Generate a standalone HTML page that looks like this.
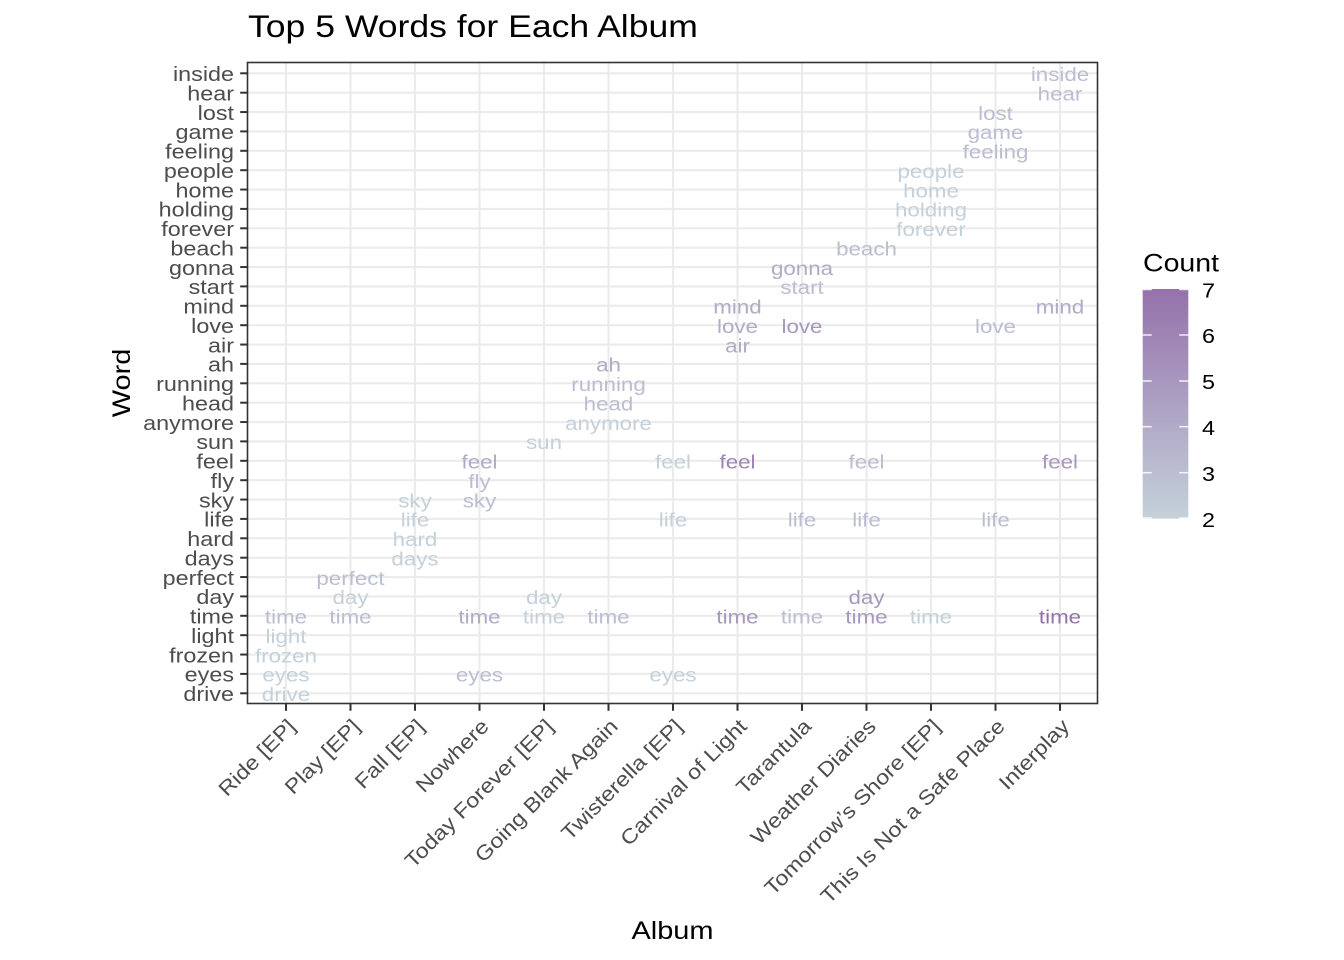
<!DOCTYPE html>
<html>
<head>
<meta charset="utf-8">
<style>
  html, body { margin:0; padding:0; background:#ffffff; }
  svg { display:block; }
  text { font-family: "Liberation Sans", Arial, sans-serif; }
  .yt { font-size:20.5px; fill:#4D4D4D; text-anchor:end; }
  .xt { font-size:20.5px; fill:#4D4D4D; text-anchor:end; }
  .g  { font-size:19.6px; text-anchor:middle; }
  .lt { font-size:20.5px; fill:#000; }
  .c2 { fill:#C4D1DA; }
  .c3 { fill:#BBBED1; }
  .c4 { fill:#B1ABC7; }
  .c5 { fill:#A897BE; }
  .c6 { fill:#9E84B4; }
  .c7 { fill:#9571AB; }
</style>
</head>
<body>
<svg width="1344" height="960" viewBox="0 0 1344 960" xmlns="http://www.w3.org/2000/svg">
  <defs>
    <linearGradient id="cb" x1="0" y1="0" x2="0" y2="1">
      <stop offset="0" stop-color="#9571AB"/>
      <stop offset="0.2" stop-color="#9E84B4"/>
      <stop offset="0.4" stop-color="#A897BE"/>
      <stop offset="0.6" stop-color="#B1ABC7"/>
      <stop offset="0.8" stop-color="#BBBED1"/>
      <stop offset="1" stop-color="#C4D1DA"/>
    </linearGradient>
  </defs>
  <rect x="0" y="0" width="1344" height="960" fill="#ffffff"/>

  <!-- Title -->
  <text transform="translate(248,37) scale(1.14,1)" font-size="31.2" fill="#000">Top 5 Words for Each Album</text>

  <!-- Panel background -->
  <rect x="247.5" y="62.5" width="850" height="641" fill="#ffffff"/>

  <!-- Horizontal gridlines -->
  <g stroke="#EBEBEB" stroke-width="2.1">
    <line x1="247.5" x2="1097.5" y1="693.3" y2="693.3"/>
    <line x1="247.5" x2="1097.5" y1="673.9" y2="673.9"/>
    <line x1="247.5" x2="1097.5" y1="654.55" y2="654.55"/>
    <line x1="247.5" x2="1097.5" y1="635.2" y2="635.2"/>
    <line x1="247.5" x2="1097.5" y1="615.8" y2="615.8"/>
    <line x1="247.5" x2="1097.5" y1="596.4" y2="596.4"/>
    <line x1="247.5" x2="1097.5" y1="577.05" y2="577.05"/>
    <line x1="247.5" x2="1097.5" y1="557.7" y2="557.7"/>
    <line x1="247.5" x2="1097.5" y1="538.3" y2="538.3"/>
    <line x1="247.5" x2="1097.5" y1="518.9" y2="518.9"/>
    <line x1="247.5" x2="1097.5" y1="499.55" y2="499.55"/>
    <line x1="247.5" x2="1097.5" y1="480.2" y2="480.2"/>
    <line x1="247.5" x2="1097.5" y1="460.8" y2="460.8"/>
    <line x1="247.5" x2="1097.5" y1="441.4" y2="441.4"/>
    <line x1="247.5" x2="1097.5" y1="422.05" y2="422.05"/>
    <line x1="247.5" x2="1097.5" y1="402.7" y2="402.7"/>
    <line x1="247.5" x2="1097.5" y1="383.3" y2="383.3"/>
    <line x1="247.5" x2="1097.5" y1="363.9" y2="363.9"/>
    <line x1="247.5" x2="1097.5" y1="344.55" y2="344.55"/>
    <line x1="247.5" x2="1097.5" y1="325.2" y2="325.2"/>
    <line x1="247.5" x2="1097.5" y1="305.8" y2="305.8"/>
    <line x1="247.5" x2="1097.5" y1="286.4" y2="286.4"/>
    <line x1="247.5" x2="1097.5" y1="267.05" y2="267.05"/>
    <line x1="247.5" x2="1097.5" y1="247.7" y2="247.7"/>
    <line x1="247.5" x2="1097.5" y1="228.3" y2="228.3"/>
    <line x1="247.5" x2="1097.5" y1="208.9" y2="208.9"/>
    <line x1="247.5" x2="1097.5" y1="189.55" y2="189.55"/>
    <line x1="247.5" x2="1097.5" y1="170.2" y2="170.2"/>
    <line x1="247.5" x2="1097.5" y1="150.8" y2="150.8"/>
    <line x1="247.5" x2="1097.5" y1="131.4" y2="131.4"/>
    <line x1="247.5" x2="1097.5" y1="112.05" y2="112.05"/>
    <line x1="247.5" x2="1097.5" y1="92.7" y2="92.7"/>
    <line x1="247.5" x2="1097.5" y1="73.3" y2="73.3"/>
  </g>
  <!-- Vertical gridlines -->
  <g stroke="#EBEBEB" stroke-width="2.1">
    <line y1="62.5" y2="703.5" x1="286" x2="286"/>
    <line y1="62.5" y2="703.5" x1="350.5" x2="350.5"/>
    <line y1="62.5" y2="703.5" x1="415" x2="415"/>
    <line y1="62.5" y2="703.5" x1="479.5" x2="479.5"/>
    <line y1="62.5" y2="703.5" x1="544" x2="544"/>
    <line y1="62.5" y2="703.5" x1="608.5" x2="608.5"/>
    <line y1="62.5" y2="703.5" x1="673" x2="673"/>
    <line y1="62.5" y2="703.5" x1="737.5" x2="737.5"/>
    <line y1="62.5" y2="703.5" x1="802" x2="802"/>
    <line y1="62.5" y2="703.5" x1="866.5" x2="866.5"/>
    <line y1="62.5" y2="703.5" x1="931" x2="931"/>
    <line y1="62.5" y2="703.5" x1="995.5" x2="995.5"/>
    <line y1="62.5" y2="703.5" x1="1060" x2="1060"/>
  </g>

  <!-- Data labels -->
  <g class="g">
    <!-- Ride [EP] -->
    <text class="g c3" transform="translate(286,623.6) scale(1.14,1)">time</text>
    <text class="g c2" transform="translate(286,643.0) scale(1.14,1)">light</text>
    <text class="g c2" transform="translate(286,662.4) scale(1.14,1)">frozen</text>
    <text class="g c2" transform="translate(286,681.7) scale(1.14,1)">eyes</text>
    <text class="g c2" transform="translate(286,701.1) scale(1.14,1)">drive</text>
    <!-- Play [EP] -->
    <text class="g c3" transform="translate(350.5,584.9) scale(1.14,1)">perfect</text>
    <text class="g c2" transform="translate(350.5,604.2) scale(1.14,1)">day</text>
    <text class="g c3" transform="translate(350.5,623.6) scale(1.14,1)">time</text>
    <!-- Fall [EP] -->
    <text class="g c2" transform="translate(415,507.4) scale(1.14,1)">sky</text>
    <text class="g c2" transform="translate(415,526.7) scale(1.14,1)">life</text>
    <text class="g c2" transform="translate(415,546.1) scale(1.14,1)">hard</text>
    <text class="g c2" transform="translate(415,565.5) scale(1.14,1)">days</text>
    <!-- Nowhere -->
    <text class="g c4" transform="translate(479.5,468.6) scale(1.14,1)">feel</text>
    <text class="g c3" transform="translate(479.5,488.0) scale(1.14,1)">fly</text>
    <text class="g c3" transform="translate(479.5,507.4) scale(1.14,1)">sky</text>
    <text class="g c4" transform="translate(479.5,623.6) scale(1.14,1)">time</text>
    <text class="g c3" transform="translate(479.5,681.7) scale(1.14,1)">eyes</text>
    <!-- Today Forever [EP] -->
    <text class="g c2" transform="translate(544,449.2) scale(1.14,1)">sun</text>
    <text class="g c2" transform="translate(544,604.2) scale(1.14,1)">day</text>
    <text class="g c2" transform="translate(544,623.6) scale(1.14,1)">time</text>
    <!-- Going Blank Again -->
    <text class="g c4" transform="translate(608.5,371.7) scale(1.14,1)">ah</text>
    <text class="g c3" transform="translate(608.5,391.1) scale(1.14,1)">running</text>
    <text class="g c3" transform="translate(608.5,410.5) scale(1.14,1)">head</text>
    <text class="g c2" transform="translate(608.5,429.9) scale(1.14,1)">anymore</text>
    <text class="g c3" transform="translate(608.5,623.6) scale(1.14,1)">time</text>
    <!-- Twisterella [EP] -->
    <text class="g c2" transform="translate(673,468.6) scale(1.14,1)">feel</text>
    <text class="g c2" transform="translate(673,526.7) scale(1.14,1)">life</text>
    <text class="g c2" transform="translate(673,681.7) scale(1.14,1)">eyes</text>
    <!-- Carnival of Light -->
    <text class="g c4" transform="translate(737.5,313.6) scale(1.14,1)">mind</text>
    <text class="g c4" transform="translate(737.5,333.0) scale(1.14,1)">love</text>
    <text class="g c4" transform="translate(737.5,352.4) scale(1.14,1)">air</text>
    <text class="g c6" transform="translate(737.5,468.6) scale(1.14,1)">feel</text>
    <text class="g c5" transform="translate(737.5,623.6) scale(1.14,1)">time</text>
    <!-- Tarantula -->
    <text class="g c4" transform="translate(802,274.9) scale(1.14,1)">gonna</text>
    <text class="g c3" transform="translate(802,294.2) scale(1.14,1)">start</text>
    <text class="g c5" transform="translate(802,333.0) scale(1.14,1)">love</text>
    <text class="g c3" transform="translate(802,526.7) scale(1.14,1)">life</text>
    <text class="g c3" transform="translate(802,623.6) scale(1.14,1)">time</text>
    <!-- Weather Diaries -->
    <text class="g c3" transform="translate(866.5,255.5) scale(1.14,1)">beach</text>
    <text class="g c3" transform="translate(866.5,468.6) scale(1.14,1)">feel</text>
    <text class="g c3" transform="translate(866.5,526.7) scale(1.14,1)">life</text>
    <text class="g c5" transform="translate(866.5,604.2) scale(1.14,1)">day</text>
    <text class="g c5" transform="translate(866.5,623.6) scale(1.14,1)">time</text>
    <!-- Tomorrow's Shore [EP] -->
    <text class="g c2" transform="translate(931,178.0) scale(1.14,1)">people</text>
    <text class="g c2" transform="translate(931,197.4) scale(1.14,1)">home</text>
    <text class="g c2" transform="translate(931,216.7) scale(1.14,1)">holding</text>
    <text class="g c2" transform="translate(931,236.1) scale(1.14,1)">forever</text>
    <text class="g c2" transform="translate(931,623.6) scale(1.14,1)">time</text>
    <!-- This Is Not a Safe Place -->
    <text class="g c3" transform="translate(995.5,119.9) scale(1.14,1)">lost</text>
    <text class="g c3" transform="translate(995.5,139.2) scale(1.14,1)">game</text>
    <text class="g c3" transform="translate(995.5,158.6) scale(1.14,1)">feeling</text>
    <text class="g c3" transform="translate(995.5,333.0) scale(1.14,1)">love</text>
    <text class="g c3" transform="translate(995.5,526.7) scale(1.14,1)">life</text>
    <!-- Interplay -->
    <text class="g c3" transform="translate(1060,81.1) scale(1.14,1)">inside</text>
    <text class="g c3" transform="translate(1060,100.5) scale(1.14,1)">hear</text>
    <text class="g c4" transform="translate(1060,313.6) scale(1.14,1)">mind</text>
    <text class="g c5" transform="translate(1060,468.6) scale(1.14,1)">feel</text>
    <text class="g c7" transform="translate(1060,623.6) scale(1.14,1)">time</text>
  </g>

  <!-- Panel border -->
  <rect x="247.5" y="62.5" width="850" height="641" fill="none" stroke="#333333" stroke-width="1.6"/>

  <!-- Y ticks -->
  <g stroke="#333333" stroke-width="2">
    <line x1="240.2" x2="247.5" y1="693.3" y2="693.3"/>
    <line x1="240.2" x2="247.5" y1="673.9" y2="673.9"/>
    <line x1="240.2" x2="247.5" y1="654.55" y2="654.55"/>
    <line x1="240.2" x2="247.5" y1="635.2" y2="635.2"/>
    <line x1="240.2" x2="247.5" y1="615.8" y2="615.8"/>
    <line x1="240.2" x2="247.5" y1="596.4" y2="596.4"/>
    <line x1="240.2" x2="247.5" y1="577.05" y2="577.05"/>
    <line x1="240.2" x2="247.5" y1="557.7" y2="557.7"/>
    <line x1="240.2" x2="247.5" y1="538.3" y2="538.3"/>
    <line x1="240.2" x2="247.5" y1="518.9" y2="518.9"/>
    <line x1="240.2" x2="247.5" y1="499.55" y2="499.55"/>
    <line x1="240.2" x2="247.5" y1="480.2" y2="480.2"/>
    <line x1="240.2" x2="247.5" y1="460.8" y2="460.8"/>
    <line x1="240.2" x2="247.5" y1="441.4" y2="441.4"/>
    <line x1="240.2" x2="247.5" y1="422.05" y2="422.05"/>
    <line x1="240.2" x2="247.5" y1="402.7" y2="402.7"/>
    <line x1="240.2" x2="247.5" y1="383.3" y2="383.3"/>
    <line x1="240.2" x2="247.5" y1="363.9" y2="363.9"/>
    <line x1="240.2" x2="247.5" y1="344.55" y2="344.55"/>
    <line x1="240.2" x2="247.5" y1="325.2" y2="325.2"/>
    <line x1="240.2" x2="247.5" y1="305.8" y2="305.8"/>
    <line x1="240.2" x2="247.5" y1="286.4" y2="286.4"/>
    <line x1="240.2" x2="247.5" y1="267.05" y2="267.05"/>
    <line x1="240.2" x2="247.5" y1="247.7" y2="247.7"/>
    <line x1="240.2" x2="247.5" y1="228.3" y2="228.3"/>
    <line x1="240.2" x2="247.5" y1="208.9" y2="208.9"/>
    <line x1="240.2" x2="247.5" y1="189.55" y2="189.55"/>
    <line x1="240.2" x2="247.5" y1="170.2" y2="170.2"/>
    <line x1="240.2" x2="247.5" y1="150.8" y2="150.8"/>
    <line x1="240.2" x2="247.5" y1="131.4" y2="131.4"/>
    <line x1="240.2" x2="247.5" y1="112.05" y2="112.05"/>
    <line x1="240.2" x2="247.5" y1="92.7" y2="92.7"/>
    <line x1="240.2" x2="247.5" y1="73.3" y2="73.3"/>
  </g>
  <!-- X ticks -->
  <g stroke="#333333" stroke-width="2">
    <line y1="703.5" y2="710.8" x1="286" x2="286"/>
    <line y1="703.5" y2="710.8" x1="350.5" x2="350.5"/>
    <line y1="703.5" y2="710.8" x1="415" x2="415"/>
    <line y1="703.5" y2="710.8" x1="479.5" x2="479.5"/>
    <line y1="703.5" y2="710.8" x1="544" x2="544"/>
    <line y1="703.5" y2="710.8" x1="608.5" x2="608.5"/>
    <line y1="703.5" y2="710.8" x1="673" x2="673"/>
    <line y1="703.5" y2="710.8" x1="737.5" x2="737.5"/>
    <line y1="703.5" y2="710.8" x1="802" x2="802"/>
    <line y1="703.5" y2="710.8" x1="866.5" x2="866.5"/>
    <line y1="703.5" y2="710.8" x1="931" x2="931"/>
    <line y1="703.5" y2="710.8" x1="995.5" x2="995.5"/>
    <line y1="703.5" y2="710.8" x1="1060" x2="1060"/>
  </g>

  <!-- Y tick labels -->
  <g>
    <text class="yt" transform="translate(234,701.1) scale(1.14,1)">drive</text>
    <text class="yt" transform="translate(234,681.7) scale(1.14,1)">eyes</text>
    <text class="yt" transform="translate(234,662.4) scale(1.14,1)">frozen</text>
    <text class="yt" transform="translate(234,643.0) scale(1.14,1)">light</text>
    <text class="yt" transform="translate(234,623.6) scale(1.14,1)">time</text>
    <text class="yt" transform="translate(234,604.2) scale(1.14,1)">day</text>
    <text class="yt" transform="translate(234,584.9) scale(1.14,1)">perfect</text>
    <text class="yt" transform="translate(234,565.5) scale(1.14,1)">days</text>
    <text class="yt" transform="translate(234,546.1) scale(1.14,1)">hard</text>
    <text class="yt" transform="translate(234,526.7) scale(1.14,1)">life</text>
    <text class="yt" transform="translate(234,507.4) scale(1.14,1)">sky</text>
    <text class="yt" transform="translate(234,488.0) scale(1.14,1)">fly</text>
    <text class="yt" transform="translate(234,468.6) scale(1.14,1)">feel</text>
    <text class="yt" transform="translate(234,449.2) scale(1.14,1)">sun</text>
    <text class="yt" transform="translate(234,429.9) scale(1.14,1)">anymore</text>
    <text class="yt" transform="translate(234,410.5) scale(1.14,1)">head</text>
    <text class="yt" transform="translate(234,391.1) scale(1.14,1)">running</text>
    <text class="yt" transform="translate(234,371.7) scale(1.14,1)">ah</text>
    <text class="yt" transform="translate(234,352.4) scale(1.14,1)">air</text>
    <text class="yt" transform="translate(234,333.0) scale(1.14,1)">love</text>
    <text class="yt" transform="translate(234,313.6) scale(1.14,1)">mind</text>
    <text class="yt" transform="translate(234,294.2) scale(1.14,1)">start</text>
    <text class="yt" transform="translate(234,274.9) scale(1.14,1)">gonna</text>
    <text class="yt" transform="translate(234,255.5) scale(1.14,1)">beach</text>
    <text class="yt" transform="translate(234,236.1) scale(1.14,1)">forever</text>
    <text class="yt" transform="translate(234,216.7) scale(1.14,1)">holding</text>
    <text class="yt" transform="translate(234,197.4) scale(1.14,1)">home</text>
    <text class="yt" transform="translate(234,178.0) scale(1.14,1)">people</text>
    <text class="yt" transform="translate(234,158.6) scale(1.14,1)">feeling</text>
    <text class="yt" transform="translate(234,139.2) scale(1.14,1)">game</text>
    <text class="yt" transform="translate(234,119.9) scale(1.14,1)">lost</text>
    <text class="yt" transform="translate(234,100.5) scale(1.14,1)">hear</text>
    <text class="yt" transform="translate(234,81.1) scale(1.14,1)">inside</text>
  </g>

  <!-- X tick labels (rotated 45) -->
  <g>
    <text class="xt" y="15" transform="translate(286,717) rotate(-45) scale(1.14,1)">Ride [EP]</text>
    <text class="xt" y="15" transform="translate(350.5,717) rotate(-45) scale(1.14,1)">Play [EP]</text>
    <text class="xt" y="15" transform="translate(415,717) rotate(-45) scale(1.14,1)">Fall [EP]</text>
    <text class="xt" y="15" transform="translate(479.5,717) rotate(-45) scale(1.14,1)">Nowhere</text>
    <text class="xt" y="15" transform="translate(544,717) rotate(-45) scale(1.14,1)">Today Forever [EP]</text>
    <text class="xt" y="15" transform="translate(608.5,717) rotate(-45) scale(1.14,1)">Going Blank Again</text>
    <text class="xt" y="15" transform="translate(673,717) rotate(-45) scale(1.14,1)">Twisterella [EP]</text>
    <text class="xt" y="15" transform="translate(737.5,717) rotate(-45) scale(1.14,1)">Carnival of Light</text>
    <text class="xt" y="15" transform="translate(802,717) rotate(-45) scale(1.14,1)">Tarantula</text>
    <text class="xt" y="15" transform="translate(866.5,717) rotate(-45) scale(1.14,1)">Weather Diaries</text>
    <text class="xt" y="15" transform="translate(931,717) rotate(-45) scale(1.14,1)">Tomorrow’s Shore [EP]</text>
    <text class="xt" y="15" transform="translate(995.5,717) rotate(-45) scale(1.14,1)">This Is Not a Safe Place</text>
    <text class="xt" y="15" transform="translate(1060,717) rotate(-45) scale(1.14,1)">Interplay</text>
  </g>

  <!-- Axis titles -->
  <text transform="translate(672.5,939) scale(1.14,1)" font-size="25.4" fill="#000" text-anchor="middle">Album</text>
  <text transform="translate(130,383) rotate(-90) scale(1.14,1)" font-size="25.4" fill="#000" text-anchor="middle">Word</text>

  <!-- Legend -->
  <text transform="translate(1143,271.5) scale(1.14,1)" font-size="25" fill="#000">Count</text>
  <rect x="1142.7" y="289" width="45.6" height="229.6" fill="url(#cb)"/>
  <g stroke="#ffffff" stroke-width="1.5" opacity="0.85">
    <line x1="1142.7" x2="1151.8" y1="289.5" y2="289.5"/>
    <line x1="1179.2" x2="1188.3" y1="289.5" y2="289.5"/>
    <line x1="1142.7" x2="1151.8" y1="335" y2="335"/>
    <line x1="1179.2" x2="1188.3" y1="335" y2="335"/>
    <line x1="1142.7" x2="1151.8" y1="381" y2="381"/>
    <line x1="1179.2" x2="1188.3" y1="381" y2="381"/>
    <line x1="1142.7" x2="1151.8" y1="426.7" y2="426.7"/>
    <line x1="1179.2" x2="1188.3" y1="426.7" y2="426.7"/>
    <line x1="1142.7" x2="1151.8" y1="472.7" y2="472.7"/>
    <line x1="1179.2" x2="1188.3" y1="472.7" y2="472.7"/>
    <line x1="1142.7" x2="1151.8" y1="518" y2="518"/>
    <line x1="1179.2" x2="1188.3" y1="518" y2="518"/>
  </g>
  <text class="lt" transform="translate(1202,297.3) scale(1.14,1)">7</text>
  <text class="lt" transform="translate(1202,343.2) scale(1.14,1)">6</text>
  <text class="lt" transform="translate(1202,389.1) scale(1.14,1)">5</text>
  <text class="lt" transform="translate(1202,435.0) scale(1.14,1)">4</text>
  <text class="lt" transform="translate(1202,480.9) scale(1.14,1)">3</text>
  <text class="lt" transform="translate(1202,526.8) scale(1.14,1)">2</text>
</svg>
</body>
</html>
